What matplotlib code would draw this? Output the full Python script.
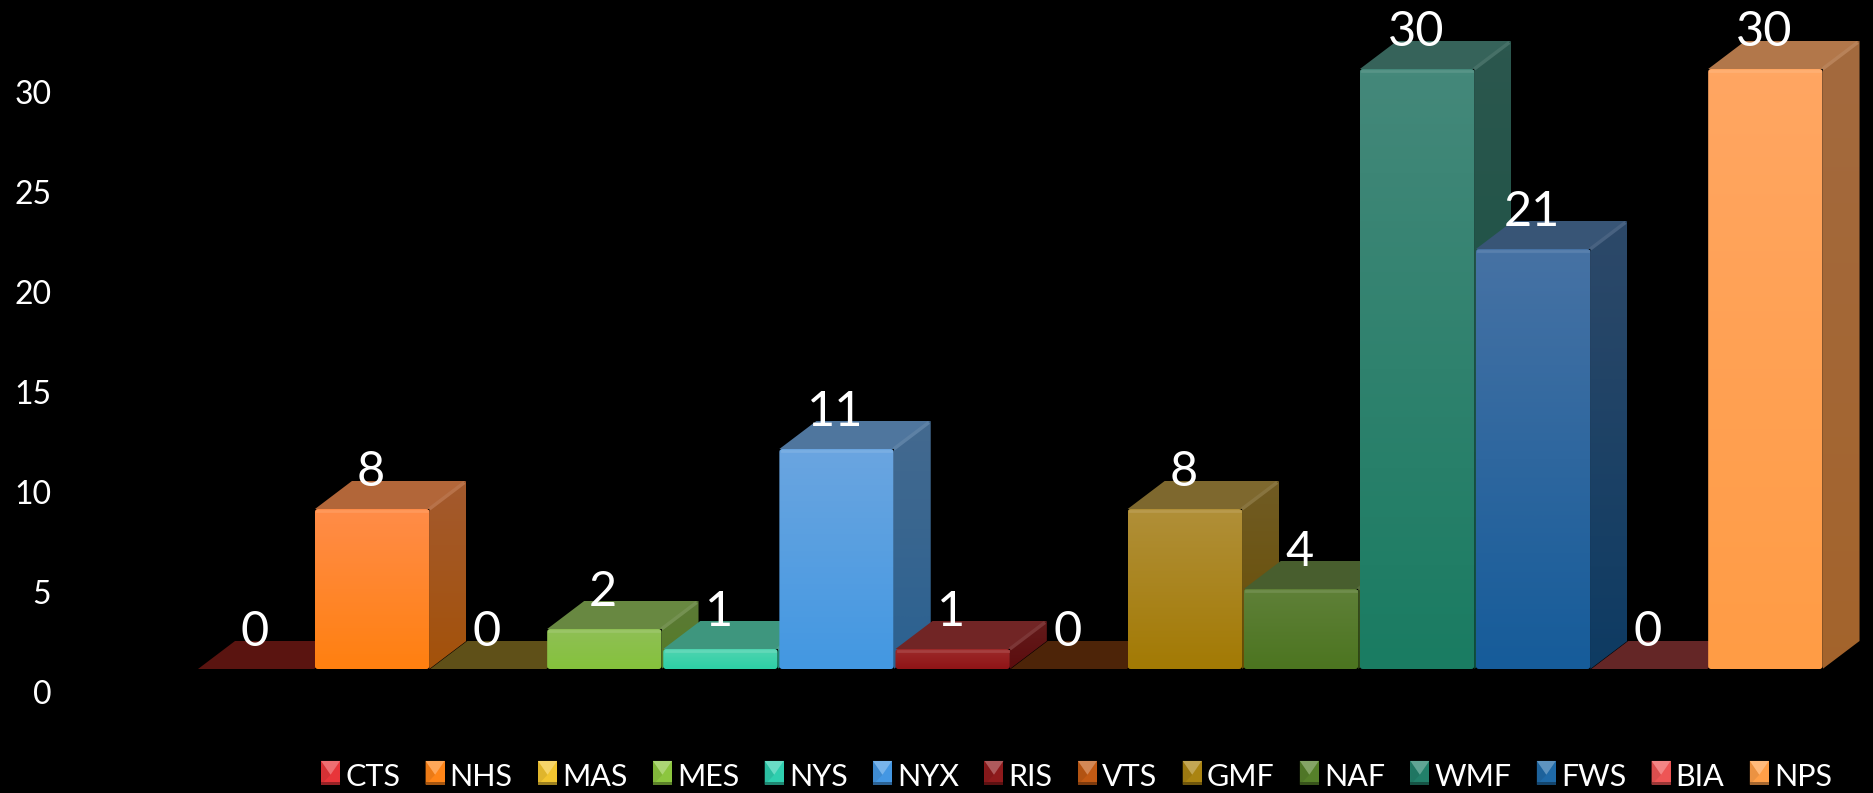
#!/usr/bin/env python3
import numpy as np
import matplotlib
matplotlib.use('Agg')
import matplotlib.pyplot as plt
from matplotlib.colors import LinearSegmentedColormap, to_rgb
from matplotlib.legend_handler import HandlerBase
from matplotlib.patches import FancyBboxPatch, Patch, Polygon, Rectangle

plt.rcParams['font.family'] = ['Lato', 'DejaVu Sans']

agencies = ['CTS', 'NHS', 'MAS', 'MES', 'NYS', 'NYX', 'RIS', 'VTS', 'GMF', 'NAF', 'WMF', 'FWS', 'BIA', 'NPS']
values = [0, 8, 0, 2, 1, 11, 1, 0, 8, 4, 30, 21, 0, 30]
yticks = [0, 5, 10, 15, 20, 25, 30]

front_top = ['#b83032', '#ff8c48', '#e0b840', '#8fbf55', '#4fd4b0', '#6aa5e0', '#9c2a2a',
             '#c26a30', '#b08f38', '#5f8038', '#44887a', '#4672a4', '#e05555', '#ffa662']
front_bottom = ['#a01a1c', '#ff8010', '#d0a010', '#85c23c', '#2dcfa5', '#4398e2', '#8f1416',
                '#b05010', '#a37a04', '#4c7520', '#1a7c62', '#165c9a', '#d04040', '#ff9c45']
legend_colors = ['#e8353a', '#ff8518', '#f2c530', '#8cc63f', '#2fcfaf', '#4497e3', '#8f1a1c',
                 '#c25a14', '#aa8412', '#56802a', '#22806a', '#1f6aa8', '#ee5555', '#ff9f48']
floor_colors = ['#5a1410', '#ff8010', '#5f5018', '#85c23c', '#2dcfa5', '#4398e2', '#8f1416',
                '#4d2408', '#a37a04', '#4c7520', '#1a7c62', '#165c9a', '#642626', '#ff9c45']

W, H = 1873, 793
PX_X = 116.1    # pixels per category
PX_Y = 20.0     # pixels per value unit
BASE = 669      # pixel row of the bars' floor
DX = 37 / PX_X  # 3d depth in data units
DY = 28 / PX_Y
BAR_W = 0.985


def shade(color, k):
    return tuple(c * k for c in to_rgb(color))


def mix(c1, c2, t):
    a, b = np.array(to_rgb(c1)), np.array(to_rgb(c2))
    return tuple(a + (b - a) * t)


def gradient(ax, extent, top, bottom, clip, zorder):
    cmap = LinearSegmentedColormap.from_list('g', [top, bottom])
    im = ax.imshow(np.linspace(0, 1, 64).reshape(-1, 1), cmap=cmap, extent=extent,
                   aspect='auto', origin='upper', interpolation='bilinear', zorder=zorder)
    im.set_clip_path(clip)


class BevelHandler(HandlerBase):
    def create_artists(self, legend, orig, x0, y0, width, height, fontsize, trans):
        c = orig.get_facecolor()
        x1, y1 = x0 + width, y0 + height
        xm, ym = x0 + width / 2, y0 + height * 0.42
        base = Rectangle((x0, y0), width, height, fc=c, ec='none', transform=trans)
        top = Polygon([(x0, y1), (x1, y1), (xm, ym)], fc=mix(c, 'white', 0.28), ec='none', transform=trans)
        left = Polygon([(x0, y0), (x0, y1), (xm, ym)], fc=shade(c, 0.92), ec='none', transform=trans)
        low = Rectangle((x0, y0), width, height * 0.1, fc=shade(c, 0.65), ec='none', transform=trans)
        return [base, left, top, low]


fig = plt.figure(figsize=(W / 100, H / 100), dpi=100, facecolor='black')
ax = fig.add_axes([0, 0, 1, 1], facecolor='none')
ax.set_xlim(-0.5 - 198 / PX_X, -0.5 + (W - 198) / PX_X)
ax.set_ylim(-(H - BASE) / PX_Y, BASE / PX_Y)
ax.axis('off')

xlim, ylim = ax.get_xlim(), ax.get_ylim()

for i, v in enumerate(values):
    left = i - BAR_W / 2
    right = i + BAR_W / 2
    z = 2 + i
    if v == 0:
        ax.add_patch(Polygon([(i - 0.5, 0), (i + 0.5, 0), (i + 0.5 + DX, DY), (i - 0.5 + DX, DY)],
                             fc=floor_colors[i], ec='none', zorder=1))
        continue

    # top of the box
    top_col = mix(shade(front_top[i], 0.72), (0.45, 0.45, 0.45), 0.08)
    ax.add_patch(Polygon([(left, v), (right, v), (right + DX, v + DY), (left + DX, v + DY)],
                         fc=top_col, ec='none', zorder=z))

    # side of the box
    side = Polygon([(right, 0), (right + DX, DY), (right + DX, v + DY), (right, v)],
                   fc='none', ec='none', zorder=z)
    ax.add_patch(side)
    gradient(ax, (right, right + DX, 0, v + DY), shade(front_top[i], 0.64), shade(front_bottom[i], 0.64), side, z)
    ax.plot([right, right + DX * 0.95], [v, v + DY * 0.95], color=mix(top_col, 'white', 0.08), lw=2.5,
            zorder=z + 0.1, solid_capstyle='butt')

    # front of the box
    box = FancyBboxPatch((left, 0), BAR_W, v, boxstyle='round,pad=0,rounding_size=0.025',
                         mutation_aspect=PX_X / PX_Y, fc='none', ec='none', zorder=z + 0.2)
    ax.add_patch(box)
    gradient(ax, (left, right, 0, v), front_top[i], front_bottom[i], box, z + 0.2)
    ax.plot([left + 0.02, right - 0.02], [v - 0.08, v - 0.08], color=mix(front_top[i], 'white', 0.1),
            lw=2, zorder=z + 0.3)

# value labels
for i, v in enumerate(values):
    ax.annotate(str(v), (i, v), xytext=(-1, 27), textcoords='offset points', ha='center', va='center',
                color='white', fontsize=35, zorder=30)

ax.set_xlim(xlim)
ax.set_ylim(ylim)

# value axis sits in front of the floor, so it is shifted from the bars
ax_y = fig.add_axes([0, 0, 1, 1], facecolor='none')
ax_y.set_xlim(xlim)
ax_y.set_ylim(-(H - 692) / PX_Y, 692 / PX_Y)
ax_y.set_xticks([])
ax_y.set_yticks(yticks)
ax_y.tick_params(axis='y', length=0, pad=-37, labelsize=23, labelcolor='white')
for s in ax_y.spines.values():
    s.set_visible(False)

handles = [Patch(facecolor=c, label=a) for c, a in zip(legend_colors, agencies)]
ax_y.legend(handles=handles, ncol=len(agencies), loc='center right', bbox_to_anchor=(1832 / W, 1 - 777 / H),
            frameon=False, labelcolor='white', handlelength=0.62, handleheight=0.82,
            handletextpad=0.17, columnspacing=0.83, borderpad=0, borderaxespad=0,
            handler_map={Patch: BevelHandler()}, prop={'size': 22})

fig.savefig('out.png', dpi=100, facecolor='black')
